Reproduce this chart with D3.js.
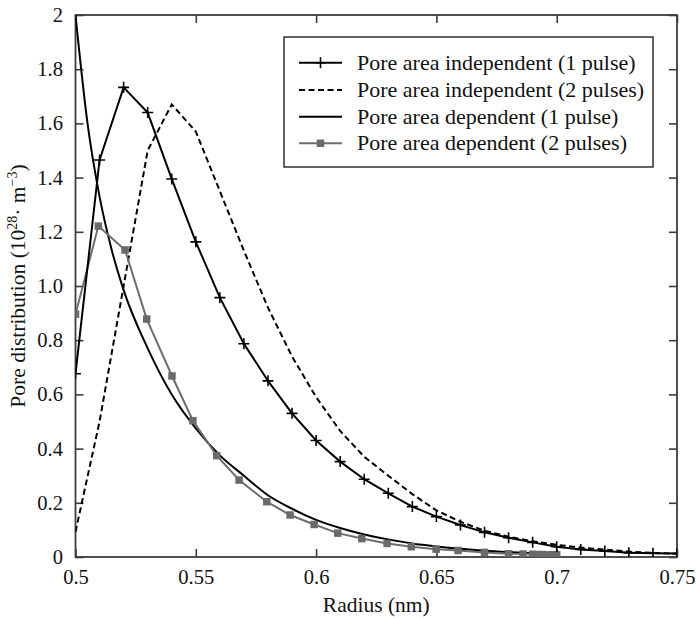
<!DOCTYPE html>
<html>
<head>
<meta charset="utf-8">
<script src="https://cdn.jsdelivr.net/npm/d3@7/dist/d3.min.js"></script>
<style>
  html, body { margin: 0; padding: 0; background: #fff; }
  svg { display: block; }
  text { font-family: "Times New Roman", Times, "Liberation Serif", Tinos, "DejaVu Serif", "Noto Serif", FreeSerif, Georgia, serif; fill: #111; }
</style>
</head>
<body>
<svg id="chart" width="696" height="618"></svg>
<script>
// Radius grid (nm) shared by the pore-area-independent curves
const radiusGrid = [0.50, 0.51, 0.52, 0.53, 0.54, 0.55, 0.56, 0.57, 0.58, 0.59,
                    0.60, 0.61, 0.62, 0.63, 0.64, 0.65, 0.66, 0.67, 0.68, 0.69,
                    0.70, 0.71, 0.72, 0.73, 0.74, 0.75];

// Pore area independent, 1 pulse (10^28 m^-3)
const indep1 = [0.676, 1.465, 1.733, 1.64, 1.395, 1.163, 0.957, 0.787, 0.65, 0.53,
                0.43, 0.352, 0.287, 0.235, 0.186, 0.149, 0.118, 0.091, 0.071, 0.054,
                0.038, 0.028, 0.022, 0.016, 0.014, 0.013];

// Pore area independent, 2 pulses
const indep2 = [0.093, 0.50, 1.0, 1.50, 1.67, 1.57, 1.35, 1.13, 0.92, 0.74,
                0.59, 0.465, 0.37, 0.30, 0.232, 0.172, 0.13, 0.097, 0.075, 0.058,
                0.045, 0.035, 0.027, 0.02, 0.015, 0.012];

// Pore area dependent, 1 pulse
const dep1Radius = [0.50, 0.505, 0.51, 0.515, 0.52, 0.53, 0.54, 0.55, 0.56, 0.57,
                    0.58, 0.59, 0.60, 0.61, 0.62, 0.63, 0.64, 0.65, 0.66, 0.67,
                    0.68, 0.69, 0.70];
const dep1 = [2.0, 1.60, 1.33, 1.135, 0.985, 0.77, 0.60, 0.475, 0.375, 0.30,
              0.228, 0.178, 0.137, 0.107, 0.083, 0.065, 0.05, 0.039, 0.03, 0.023,
              0.018, 0.014, 0.011];

// Pore area dependent, 2 pulses
const dep2Radius = [0.50, 0.5095, 0.5206, 0.5296, 0.5401, 0.5488, 0.5587, 0.568, 0.5795, 0.5892,
                    0.5992, 0.609, 0.619, 0.6295, 0.6396, 0.6499, 0.659, 0.67, 0.68, 0.686,
                    0.69, 0.692, 0.694, 0.696, 0.698, 0.70];
const dep2 = [0.896, 1.221, 1.133, 0.878, 0.668, 0.503, 0.374, 0.284, 0.204, 0.155,
              0.12, 0.088, 0.068, 0.05, 0.038, 0.029, 0.024, 0.017, 0.012, 0.011,
              0.01, 0.009, 0.009, 0.008, 0.008, 0.008];

// Axis ticks
const xTicks = [0.5, 0.55, 0.6, 0.65, 0.7, 0.75];
const xTickLabels = ["0.5", "0.55", "0.6", "0.65", "0.7", "0.75"];
const yTicks = [0, 0.2, 0.4, 0.6, 0.8, 1.0, 1.2, 1.4, 1.6, 1.8, 2];
const yTickLabels = ["0", "0.2", "0.4", "0.6", "0.8", "1.0", "1.2", "1.4", "1.6", "1.8", "2"];

const legendLabels = [
  "Pore area independent (1 pulse)",
  "Pore area independent (2 pulses)",
  "Pore area dependent (1 pulse)",
  "Pore area dependent (2 pulses)"
];

const serifStack = '"Times New Roman", Times, "Liberation Serif", Tinos, "DejaVu Serif", "Noto Serif", FreeSerif, Georgia, serif';

const svg = d3.select("#chart");
const plot = { left: 75.5, right: 677, top: 15, bottom: 557 };

// Pick a font size so that a sample string spans the wanted width
function fitSize(sample, width, maxSize) {
  const t = svg.append("text").style("font-family", serifStack)
    .style("font-size", "100px").text(sample);
  const w = t.node().getComputedTextLength();
  t.remove();
  return Math.min(maxSize, 100 * width / w);
}
const tickSize = fitSize("0.55", 36, 21);
const titleSize = fitSize("Radius (nm)", 108, 21.5);
const legendSize = fitSize(legendLabels[0], 281, 22);

const x = d3.scaleLinear().domain([0.5, 0.75]).range([plot.left, plot.right]);
const y = d3.scaleLinear().domain([0, 2]).range([plot.bottom, plot.top]);

svg.append("rect").attr("width", 696).attr("height", 618).attr("fill", "#fff");

svg.append("defs").append("clipPath").attr("id", "plotClip")
  .append("rect")
  .attr("x", plot.left).attr("y", plot.top - 2)
  .attr("width", plot.right - plot.left).attr("height", plot.bottom - plot.top + 2);

// Axes with inward ticks on all four sides
const tickLen = 8;
const axisColor = "#3c3c3c";

const gBottom = svg.append("g").attr("transform", `translate(0,${plot.bottom})`)
  .call(d3.axisBottom(x).tickValues(xTicks).tickSize(-tickLen).tickPadding(12)
    .tickFormat((d, i) => xTickLabels[i]));
const gTop = svg.append("g").attr("transform", `translate(0,${plot.top})`)
  .call(d3.axisTop(x).tickValues(xTicks).tickSize(-tickLen).tickFormat(""));
const gLeft = svg.append("g").attr("transform", `translate(${plot.left},0)`)
  .call(d3.axisLeft(y).tickValues(yTicks).tickSize(-tickLen).tickPadding(12.5)
    .tickFormat((d, i) => yTickLabels[i]));
const gRight = svg.append("g").attr("transform", `translate(${plot.right},0)`)
  .call(d3.axisRight(y).tickValues(yTicks).tickSize(-tickLen).tickFormat(""));

[gBottom, gTop, gLeft, gRight].forEach(g => {
  g.attr("font-family", serifStack);
  g.select(".domain").remove();
  g.selectAll(".tick line").attr("stroke", axisColor).attr("stroke-width", 1.6);
  g.selectAll(".tick text")
    .style("font-family", serifStack)
    .style("font-size", tickSize + "px").attr("fill", "#111");
});

// Frame
svg.append("rect")
  .attr("x", plot.left).attr("y", plot.top)
  .attr("width", plot.right - plot.left).attr("height", plot.bottom - plot.top)
  .attr("fill", "none").attr("stroke", axisColor).attr("stroke-width", 1.8);

// Curves
const area = svg.append("g").attr("clip-path", "url(#plotClip)");
const line = d3.line().x(d => x(d[0])).y(d => y(d[1]));
const smooth = d3.line().x(d => x(d[0])).y(d => y(d[1])).curve(d3.curveMonotoneX);

const ptsIndep1 = radiusGrid.map((r, i) => [r, indep1[i]]);
const ptsIndep2 = radiusGrid.map((r, i) => [r, indep2[i]]);
const ptsDep1 = dep1Radius.map((r, i) => [r, dep1[i]]);
const ptsDep2 = dep2Radius.map((r, i) => [r, dep2[i]]);

area.append("path").attr("d", line(ptsIndep2))
  .attr("fill", "none").attr("stroke", "#000").attr("stroke-width", 2)
  .attr("stroke-dasharray", "6,3.5");

area.append("path").attr("d", smooth(ptsDep1))
  .attr("fill", "none").attr("stroke", "#000").attr("stroke-width", 2);

area.append("path").attr("d", line(ptsDep2))
  .attr("fill", "none").attr("stroke", "#6e6e6e").attr("stroke-width", 2);

area.append("path").attr("d", line(ptsIndep1))
  .attr("fill", "none").attr("stroke", "#000").attr("stroke-width", 2);

const sq = 7.5;
area.selectAll("rect.sq").data(ptsDep2).join("rect")
  .attr("class", "sq")
  .attr("x", d => x(d[0]) - sq / 2).attr("y", d => y(d[1]) - sq / 2)
  .attr("width", sq).attr("height", sq).attr("fill", "#6a6a6a");

const pl = 5.5;
const plusPath = (cx, cy) => `M${cx - pl},${cy}H${cx + pl}M${cx},${cy - pl}V${cy + pl}`;
area.selectAll("path.plus").data(ptsIndep1).join("path")
  .attr("class", "plus")
  .attr("d", d => plusPath(x(d[0]), y(d[1])))
  .attr("stroke", "#000").attr("stroke-width", 1.6).attr("fill", "none");

// Axis titles
svg.append("text")
  .attr("x", (plot.left + plot.right) / 2).attr("y", 612)
  .attr("text-anchor", "middle")
  .style("font-family", serifStack).style("font-size", titleSize + "px")
  .text("Radius (nm)");

const supSize = titleSize * 0.65;
const yTitle = svg.append("text")
  .attr("transform", `translate(25,${(plot.top + plot.bottom) / 2}) rotate(-90)`)
  .attr("text-anchor", "middle")
  .style("font-family", serifStack).style("font-size", titleSize + "px");
yTitle.append("tspan").text("Pore distribution (10");
yTitle.append("tspan").attr("dy", -8).style("font-size", supSize + "px").text("28");
yTitle.append("tspan").attr("dy", 8).text("· m");
yTitle.append("tspan").attr("dy", -8).style("font-size", supSize + "px").text("−3");
yTitle.append("tspan").attr("dy", 8).text(")");

// Legend
const leg = svg.append("g");
leg.append("rect")
  .attr("x", 284).attr("y", 37).attr("width", 369).attr("height", 130)
  .attr("fill", "#fff").attr("stroke", "#222").attr("stroke-width", 1.4);

const rowY = [62.7, 90, 116.7, 143.3];
const sx0 = 299, sx1 = 342, smid = (sx0 + sx1) / 2;
const styles = [
  { stroke: "#000", dash: null },
  { stroke: "#000", dash: "6,3.5" },
  { stroke: "#000", dash: null },
  { stroke: "#6e6e6e", dash: null }
];
legendLabels.forEach((lab, i) => {
  const g = leg.append("g");
  g.append("line").attr("x1", sx0).attr("x2", sx1).attr("y1", rowY[i]).attr("y2", rowY[i])
    .attr("stroke", styles[i].stroke).attr("stroke-width", 2)
    .attr("stroke-dasharray", styles[i].dash);
  if (i === 0) {
    g.append("path").attr("d", plusPath(smid, rowY[i]))
      .attr("stroke", "#000").attr("stroke-width", 1.6);
  }
  if (i === 3) {
    g.append("rect").attr("x", smid - sq / 2).attr("y", rowY[i] - sq / 2)
      .attr("width", sq).attr("height", sq).attr("fill", "#6a6a6a");
  }
  g.append("text").attr("x", 357).attr("y", rowY[i] + 7)
    .style("font-family", serifStack)
    .style("font-size", legendSize + "px").text(lab);
});
</script>
</body>
</html>
